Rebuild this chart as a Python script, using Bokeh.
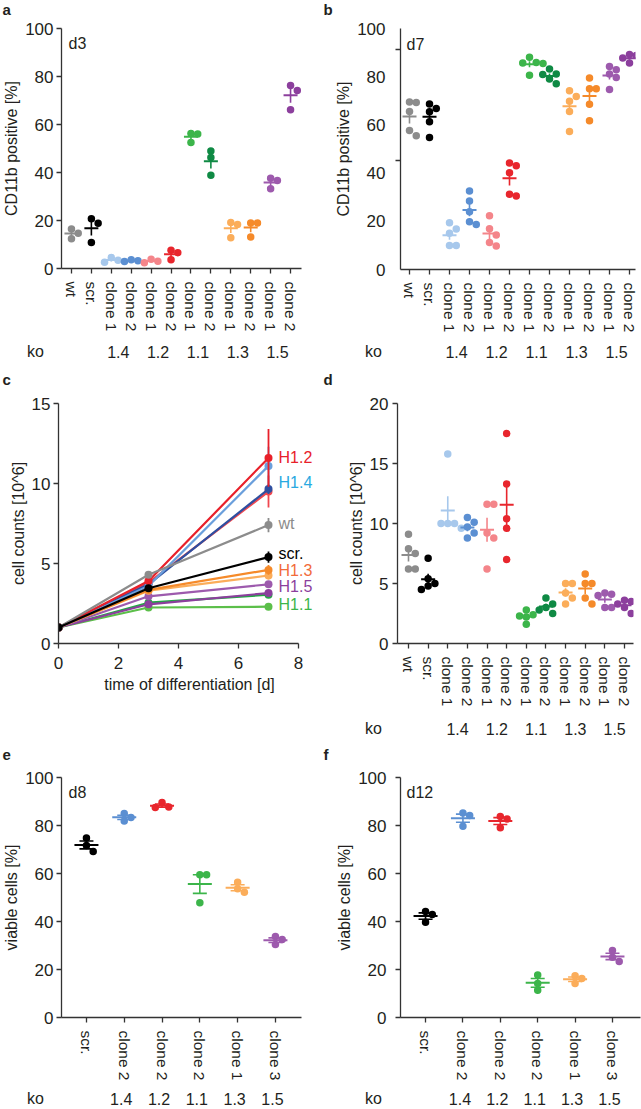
import numpy as np
from bokeh.plotting import figure
from bokeh.models import Range1d, FixedTicker, Label, ColumnDataSource
from bokeh.core.properties import value
from bokeh.layouts import row, column
from bokeh.embed import file_html
from bokeh.resources import INLINE

FONT = "Liberation Sans"
INK = "#231f20"
AX = "#333333"

# ---------------- data ----------------
cats12 = ["wt", "scr.", "clone 1", "clone 2", "clone 1", "clone 2",
          "clone 1", "clone 2", "clone 1", "clone 2", "clone 1", "clone 2"]
ko12 = ["1.4", "1.2", "1.1", "1.3", "1.5"]
colors12 = ["#8c8c8c", "#000000", "#a7c8ec", "#5b8fd2", "#f4858a", "#e8262d",
            "#3cb54a", "#0f8a44", "#fbad5a", "#f58a2a", "#9d5aad", "#8c3f9d"]

# panel a: CD11b positive [%], day 3
cd11b_d3 = [
    [16.5, 14.7, 12.4],
    [20.7, 18.9, 10.8],
    [4.6, 3.4, 2.6],
    [3.6, 3.2, 2.9],
    [3.9, 3.0, 2.4],
    [7.6, 6.6, 3.6],
    [56.3, 56.0, 52.5],
    [49.0, 46.2, 38.9],
    [19.2, 18.3, 12.8],
    [19.0, 19.0, 13.1],
    [37.6, 36.7, 33.2],
    [76.3, 74.2, 66.1],
]

# panel b: CD11b positive [%], day 7
cd11b_d7 = [
    [69.5, 69.3, 65.6, 57.7, 55.5],
    [68.7, 66.8, 65.5, 61.3, 54.8],
    [19.4, 16.8, 15.0, 10.0, 10.0],
    [32.6, 28.4, 24.0, 19.8, 18.7],
    [22.3, 16.9, 14.3, 11.2, 9.8],
    [44.2, 43.1, 40.1, 31.2, 30.5],
    [88.1, 85.9, 85.7, 85.5, 80.6],
    [83.2, 81.1, 80.9, 79.0, 77.1],
    [74.2, 71.8, 69.8, 65.6, 57.3],
    [79.5, 75.0, 75.0, 68.6, 61.7],
    [84.2, 82.9, 81.1, 79.7, 74.7],
    [89.2, 88.8, 87.8, 86.8, 85.7],
]

# panel c: growth curves, cell counts [10^6]
days = [0, 3, 7]
growth_vals = [
    [1.0, 2.25, 2.3],    # 1.1 clone 1
    [1.0, 2.55, 3.05],   # 1.1 clone 2
    [1.0, 2.45, 3.15],   # 1.5 clone 2
    [1.0, 2.95, 3.7],    # 1.5 clone 1
    [1.0, 3.3, 4.25],    # 1.3 clone 1
    [1.0, 3.35, 4.6],    # 1.3 clone 2
    [1.0, 3.8, 9.5],     # 1.2 clone 1
    [1.0, 3.7, 9.65],    # 1.4 clone 2
    [1.0, 3.6, 11.1],    # 1.4 clone 1
    [1.0, 3.9, 11.6],    # 1.2 clone 2
    [1.0, 4.3, 7.4],     # wt
    [1.0, 3.45, 5.4],    # scr.
]
growth_sem_d7 = [0.15, 0.2, 0.2, 0.2, 0.25, 0.3, 1.0, 0.3, 1.2, 1.8, 0.45, 0.35]
growth_colors = ["#5cbf4a", "#22a844", "#8c3f9d", "#9d5aad", "#fbad5a", "#f58a2a",
                 "#f0474f", "#2f4fa0", "#6a9fdc", "#e8202a", "#8c8c8c", "#000000"]
growth_labels = ["H1.2", "H1.4", "wt", "scr.", "H1.3", "H1.5", "H1.1"]
growth_label_y = [11.6, 10.05, 7.5, 5.6, 4.55, 3.55, 2.45]
growth_label_colors = ["#e8202a", "#29a9e1", "#8c8c8c", "#000000", "#f26b3a", "#8c3f9d", "#3cb54a"]

# panel d: cell counts [10^6], day 7
counts_d7 = [
    [9.1, 7.9, 7.5, 6.2, 6.2],
    [7.1, 5.4, 5.0, 4.8, 4.5],
    [15.8, 10.0, 10.0, 10.0, 9.6],
    [10.5, 10.1, 9.7, 9.2, 8.8],
    [11.6, 11.6, 9.2, 8.8, 6.2],
    [17.5, 13.3, 10.4, 9.6, 7.0],
    [2.8, 2.4, 2.3, 2.2, 1.6],
    [3.8, 3.3, 3.0, 2.8, 2.5],
    [5.0, 5.0, 4.2, 3.8, 3.3],
    [5.8, 5.0, 5.0, 3.8, 3.3],
    [4.2, 4.1, 4.0, 3.0, 3.0],
    [3.6, 3.5, 3.3, 3.0, 2.5],
]

# panels e, f: viable cells [%]
cats6 = ["scr.", "clone 2", "clone 2", "clone 2", "clone 1", "clone 3"]
ko6 = ["", "1.4", "1.2", "1.1", "1.3", "1.5"]
colors6 = ["#000000", "#5b8fd2", "#e8262d", "#3cb54a", "#fbad5a", "#9d5aad"]
viable_d8 = [[74.8, 71.7, 69.2], [85.0, 83.3, 81.9], [89.6, 87.7, 87.5],
             [59.5, 59.5, 47.8], [56.4, 53.6, 52.2], [33.7, 32.5, 30.4]]
viable_d12 = [[44.2, 42.9, 39.7], [85.2, 84.2, 79.7], [83.8, 82.7, 79.1],
              [17.7, 14.2, 11.4], [17.4, 16.3, 14.2], [27.9, 25.1, 23.3]]


# ---------------- helpers ----------------
def base_fig(fw, fh, ml, mr, mt, mb, xr, yr):
    p = figure(frame_width=fw, frame_height=fh, min_border_left=ml, min_border_right=mr,
               min_border_top=mt, min_border_bottom=mb,
               x_range=Range1d(*xr), y_range=Range1d(*yr),
               output_backend="svg", toolbar_location=None)
    p.outline_line_color = None
    p.xgrid.visible = False
    p.ygrid.visible = False
    p.title.visible = False
    for ax in (p.xaxis[0], p.yaxis[0]):
        ax.axis_line_color = AX
        ax.axis_line_width = 1.3
        ax.major_tick_line_color = AX
        ax.major_tick_line_width = 1.3
        ax.major_tick_out = 5
        ax.major_tick_in = 0
        ax.minor_tick_line_color = None
        ax.major_label_text_font = FONT
        ax.major_label_text_font_size = "17px"
        ax.major_label_text_color = INK
        ax.axis_label_text_font = FONT
        ax.axis_label_text_font_size = "16px"
        ax.axis_label_text_font_style = "normal"
        ax.axis_label_text_color = INK
    p.yaxis[0].major_label_standoff = 3
    p.yaxis[0].axis_label_standoff = 2
    p._geom = dict(fw=fw, fh=fh, ml=ml, mt=mt, xr=xr, yr=yr, W=ml + fw + mr)
    return p


def add_label(p, x, y, text, dx=0, dy=0, size="16px", color=INK):
    p.add_layout(Label(x=x, y=y, x_offset=dx, y_offset=dy, text=text, text_font=FONT,
                       text_font_size=size, text_color=color, text_align="left",
                       text_baseline="middle"))


def strip(g, height):
    """A text-only strip under/over a panel, sharing the panel's x mapping."""
    xpx = g["fw"] / (g["xr"][1] - g["xr"][0])
    x_lo = g["xr"][0] - g["ml"] / xpx
    x_hi = x_lo + g["W"] / xpx
    s = figure(width=g["W"], height=height, x_range=Range1d(x_lo, x_hi),
               y_range=Range1d(0, height), x_axis_type=None, y_axis_type=None,
               min_border=0, output_backend="svg", toolbar_location=None)
    s.outline_line_color = None
    s.title.visible = False
    s._xpx = xpx
    s._xlo = x_lo
    return s


def strip_text(s, xs, y, texts, align="center", bold=False, size="16px"):
    s.text(x=xs, y=[y] * len(xs), text=texts, text_font=value(FONT),
           text_font_size=value(size), text_color=INK, text_align=align,
           text_baseline="middle", text_font_style="bold" if bold else "normal")


def letter(s, text, y, dx=2):
    strip_text(s, [s._xlo + dx / s._xpx], y, [text], align="left", bold=True, size="15px")


def ko_row(s, g, labels, centers, y, ko_dx):
    xs = [g["xr"][0] - ko_dx / s._xpx] + [c for l, c in zip(labels, centers) if l]
    txt = ["ko"] + [l for l in labels if l]
    strip_text(s, xs, y, txt)


def swarm(vals, xpx, ypx, diam):
    order = np.argsort(-np.asarray(vals))
    placed = []
    offs = [0.0] * len(vals)
    for i in order:
        y = vals[i] * ypx
        for k in [0, 1, -1, 2, -2, 3, -3]:
            dx = k * diam * 0.9
            if all((dx - px) ** 2 + (y - py) ** 2 >= (0.85 * diam) ** 2 for px, py in placed):
                break
        placed.append((dx, y))
        offs[i] = dx / xpx
    return offs


def dot_panel(p, vals, colors, bar_px, caps=False, diam=7.5, lw=2.0):
    g = p._geom
    xpx = g["fw"] / (g["xr"][1] - g["xr"][0])
    ypx = g["fh"] / (g["yr"][1] - g["yr"][0])
    xs, ys, cs = [], [], []
    for i, (v, c) in enumerate(zip(vals, colors)):
        offs = swarm(v, xpx, ypx, diam)
        xs += [i + 1 + o for o in offs]
        ys += list(v)
        cs += [c] * len(v)
    p.scatter(x="x", y="y", color="c", size=diam, line_color=None,
              source=ColumnDataSource(dict(x=xs, y=ys, c=cs)))
    idx = np.arange(1, len(vals) + 1)
    means = np.array([np.mean(v) for v in vals])
    sems = np.array([np.std(v, ddof=1) / np.sqrt(len(v)) for v in vals])
    half = bar_px / 2 / xpx
    p.segment(x0=idx - half, x1=idx + half, y0=means, y1=means, line_color=colors, line_width=lw)
    p.segment(x0=idx, x1=idx, y0=means - sems, y1=means + sems, line_color=colors, line_width=lw * 0.8)
    if caps:
        ch = 7 / xpx
        for sgn in (-1, 1):
            p.segment(x0=idx - ch, x1=idx + ch, y0=means + sgn * sems, y1=means + sgn * sems,
                      line_color=colors, line_width=lw * 0.8)


def cat_axis(p, labels):
    ax = p.xaxis[0]
    ax.ticker = FixedTicker(ticks=list(range(1, len(labels) + 1)))
    ax.major_label_overrides = {i + 1: lab for i, lab in enumerate(labels)}
    ax.major_label_orientation = "vertical"
    ax.major_label_text_font_size = "15.5px"
    ax.major_label_standoff = 8


ko12_centers = [3.5 + 2 * k for k in range(len(ko12))]
ko6_centers = list(range(1, len(ko6) + 1))

# ---------------- row 1: panels a, b ----------------
pa = base_fig(240, 240, 58, 22, 10, 73, (0.5, 12.55), (0, 100))
pa.yaxis[0].ticker = FixedTicker(ticks=[0, 20, 40, 60, 80, 100])
pa.yaxis[0].axis_label = "CD11b positive [%]"
dot_panel(pa, cd11b_d3, colors12, 14)
cat_axis(pa, cats12)
add_label(pa, 0.5, 100, "d3", dx=7, dy=-15)

pb = base_fig(235, 241, 77, 9, 9, 73, (0.55, 12.3), (0, 100))
pb.yaxis[0].ticker = FixedTicker(ticks=[0, 20, 40, 60, 80, 100], minor_ticks=[45.4, 91.2])
pb.yaxis[0].major_tick_line_color = None
pb.yaxis[0].minor_tick_line_color = AX
pb.yaxis[0].minor_tick_line_width = 1.3
pb.yaxis[0].minor_tick_out = 5
pb.yaxis[0].minor_tick_in = 0
pb.yaxis[0].major_label_standoff = 10
pb.yaxis[0].axis_label = "CD11b positive [%]"
dot_panel(pb, cd11b_d7, colors12, 14)
cat_axis(pb, cats12)
add_label(pb, 0.55, 100, "d7", dx=6, dy=-16)

# ---------------- row 2: panels c, d ----------------
c_fw = 262
c_xr = (0, 8 * c_fw / 240)
pc = base_fig(c_fw, 240, 58, 0, 13, 75, c_xr, (0, 15))
pc.xaxis[0].bounds = (0, 8)
pc.xaxis[0].ticker = FixedTicker(ticks=[0, 2, 4, 6, 8])
pc.yaxis[0].ticker = FixedTicker(ticks=[0, 5, 10, 15])
pc.xaxis[0].major_label_standoff = 8
pc.xaxis[0].axis_label_standoff = 4
pc.xaxis[0].axis_label = "time of differentiation [d]"
pc.yaxis[0].axis_label = "cell counts [10^6]"
for vals, sem, col in zip(growth_vals, growth_sem_d7, growth_colors):
    pc.line(days, vals, line_color=col, line_width=2.2)
    pc.scatter(days, vals, size=8, color=col, line_color=None)
    pc.segment(x0=[days[-1]], x1=[days[-1]], y0=[vals[-1] - sem], y1=[vals[-1] + sem],
               line_color=col, line_width=1.8)
pc.text(x=[days[-1]] * len(growth_labels), y=growth_label_y, text=growth_labels,
        x_offset=10, text_color=growth_label_colors, text_font=value(FONT),
        text_font_size=value("16px"), text_baseline="middle", text_align="left")

pd_ = base_fig(236, 240, 77, 8, 13, 75, (0.44, 12.46), (0, 20))
pd_.yaxis[0].ticker = FixedTicker(ticks=[0, 5, 10, 15, 20])
pd_.yaxis[0].major_label_standoff = 4
pd_.yaxis[0].axis_label = "cell counts [10^6]"
dot_panel(pd_, counts_d7, colors12, 14)
cat_axis(pd_, cats12)

# ---------------- row 3: panels e, f ----------------
pe = base_fig(240, 240, 58, 22, 12, 70, (0.34, 6.69), (0, 100))
pe.yaxis[0].ticker = FixedTicker(ticks=[0, 20, 40, 60, 80, 100])
pe.yaxis[0].axis_label = "viable cells [%]"
dot_panel(pe, viable_d8, colors6, 24, caps=True)
cat_axis(pe, cats6)
add_label(pe, 0.34, 100, "d8", dx=7, dy=-15)

pf = base_fig(240, 240, 77, 4, 12, 70, (0.33, 6.75), (0, 100))
pf.yaxis[0].ticker = FixedTicker(ticks=[0, 20, 40, 60, 80, 100])
pf.yaxis[0].major_label_standoff = 9
pf.yaxis[0].axis_label = "viable cells [%]"
dot_panel(pf, viable_d12, colors6, 24, caps=True)
cat_axis(pf, cats6)
add_label(pf, 0.33, 100, "d12", dx=6, dy=-15)

# ---------------- text strips (panel letters, "ko" rows) ----------------
s0a = strip(pa._geom, 18); letter(s0a, "a", 9)
s0b = strip(pb._geom, 18); letter(s0b, "b", 9, dx=3)

s1a = strip(pa._geom, 49)
ko_row(s1a, pa._geom, ko12, ko12_centers, 39, 23)
letter(s1a, "c", 11)
s1b = strip(pb._geom, 49)
ko_row(s1b, pb._geom, ko12, ko12_centers, 39, 24)
letter(s1b, "d", 11, dx=3)

s2a = strip(pc._geom, 47)
letter(s2a, "e", 11)
s2b = strip(pd_._geom, 47)
ko_row(s2b, pd_._geom, ko12, ko12_centers, 37, 24)
letter(s2b, "f", 11, dx=3)

s3a = strip(pe._geom, 22)
ko_row(s3a, pe._geom, ko6, ko6_centers, 11, 23)
s3b = strip(pf._geom, 22)
ko_row(s3b, pf._geom, ko6, ko6_centers, 11, 24)

layout = column(row(s0a, s0b), row(pa, pb), row(s1a, s1b), row(pc, pd_),
                row(s2a, s2b), row(pe, pf), row(s3a, s3b))
open("out.html", "w").write(file_html(layout, INLINE))
